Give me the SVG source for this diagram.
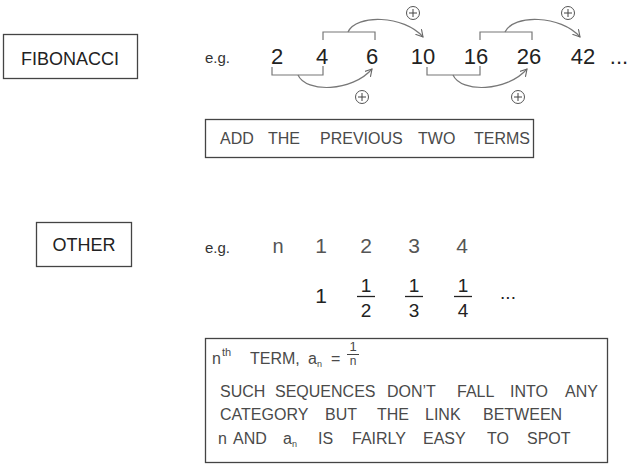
<svg xmlns="http://www.w3.org/2000/svg" width="642" height="467" viewBox="0 0 642 467">
<defs>
<marker id="arr" markerWidth="10" markerHeight="10" refX="7" refY="4" orient="auto" markerUnits="userSpaceOnUse">
<path d="M0,0 L7,4 L0,8" fill="none" stroke="#666" stroke-width="1.1"/>
</marker>
<style>
.t{font-family:"Liberation Sans",Arial,sans-serif;}
.box{fill:#fff;stroke:#444;stroke-width:1.3;}
.lbl{font-size:18px;fill:#222;text-anchor:middle;}
.num{font-size:22px;fill:#222;text-anchor:middle;}
.gray{fill:#555;}
.eg{font-size:15px;fill:#333;}
.note{font-size:16px;fill:#4a4a4a;}
.ln{fill:none;stroke:#777;stroke-width:1.2;}
.plus{fill:#fff;stroke:#555;stroke-width:1;}
.fr{font-size:19px;fill:#222;text-anchor:middle;}
</style>
</defs>

<g id="fibonacci">
<rect class="box" x="3.5" y="34.5" width="134" height="44"/>
<text class="t lbl" x="70" y="65">FIBONACCI</text>
</g>

<g id="fib-sequence">
<text class="t eg" x="205" y="63">e.g.</text>
<text class="t num" x="277" y="64">2</text>
<text class="t num" x="322" y="64">4</text>
<text class="t num" x="372" y="64">6</text>
<text class="t num" x="423" y="64">10</text>
<text class="t num" x="476" y="64">16</text>
<text class="t num" x="529" y="64">26</text>
<text class="t num" x="583" y="64">42</text>
<text class="t num" x="619" y="64">...</text>
</g>

<g id="connectors">
<path class="ln" d="M272,67 V75 H323 V66"/>
<path class="ln" d="M323,40 V32 H375 V40"/>
<path class="ln" d="M427,67 V75 H480 V66"/>
<path class="ln" d="M480,40 V32 H532 V40"/>
<path class="ln" d="M298,75 C306,93 352,92 372,69" marker-end="url(#arr)"/>
<path class="ln" d="M348,32 C356,14 404,15 423,37" marker-end="url(#arr)"/>
<path class="ln" d="M453,75 C461,93 507,92 527,69" marker-end="url(#arr)"/>
<path class="ln" d="M505,32 C513,14 561,15 580,37" marker-end="url(#arr)"/>
</g>

<g id="plus-signs">
<g transform="translate(413,13)"><circle class="plus" r="6.5"/><path d="M-4,0 H4 M0,-4 V4" stroke="#444" stroke-width="1"/></g>
<g transform="translate(362,97)"><circle class="plus" r="6.5"/><path d="M-4,0 H4 M0,-4 V4" stroke="#444" stroke-width="1"/></g>
<g transform="translate(518,97)"><circle class="plus" r="6.5"/><path d="M-4,0 H4 M0,-4 V4" stroke="#444" stroke-width="1"/></g>
<g transform="translate(568,13)"><circle class="plus" r="6.5"/><path d="M-4,0 H4 M0,-4 V4" stroke="#444" stroke-width="1"/></g>
</g>

<g id="fib-note">
<rect class="box" x="205.5" y="119.5" width="328" height="38"/>
<text class="t note" y="144"><tspan x="220">ADD</tspan><tspan x="268">THE</tspan><tspan x="320">PREVIOUS</tspan><tspan x="418">TWO</tspan><tspan x="474">TERMS</tspan></text>
</g>

<g id="other">
<rect class="box" x="36.5" y="222.5" width="95" height="44"/>
<text class="t lbl" x="84" y="251">OTHER</text>
</g>

<g id="other-sequence">
<text class="t eg" x="205" y="253">e.g.</text>
<text class="t num gray" x="278" y="253" style="font-size:20px">n</text>
<text class="t num gray" x="321" y="253" style="font-size:21px">1</text>
<text class="t num gray" x="366" y="253" style="font-size:21px">2</text>
<text class="t num gray" x="414" y="253" style="font-size:21px">3</text>
<text class="t num gray" x="462" y="253" style="font-size:21px">4</text>
<text class="t num" x="321" y="303" style="font-size:21px">1</text>
<text class="t fr" x="366" y="292">1</text>
<line x1="357" y1="296.5" x2="375" y2="296.5" stroke="#222" stroke-width="1.3"/>
<text class="t fr" x="366" y="317">2</text>
<text class="t fr" x="414" y="292">1</text>
<line x1="405" y1="296.5" x2="423" y2="296.5" stroke="#222" stroke-width="1.3"/>
<text class="t fr" x="414" y="317">3</text>
<text class="t fr" x="463" y="292">1</text>
<line x1="454" y1="296.5" x2="472" y2="296.5" stroke="#222" stroke-width="1.3"/>
<text class="t fr" x="463" y="317">4</text>
<text class="t fr" x="508" y="299">...</text>
</g>

<g id="other-note">
<rect class="box" x="205.5" y="338.5" width="402" height="124"/>
<text class="t note" x="212" y="364">n</text>
<text class="t note" x="222" y="356" style="font-size:11px">th</text>
<text class="t note" x="250" y="364">TERM,</text>
<text class="t note" x="308" y="364">a</text>
<text class="t note" x="317" y="367" style="font-size:9px">n</text>
<text class="t note" x="331" y="364">=</text>
<text class="t note" x="353" y="351" style="font-size:13px;text-anchor:middle">1</text>
<line x1="347" y1="354.5" x2="359" y2="354.5" stroke="#444" stroke-width="1"/>
<text class="t note" x="353" y="365" style="font-size:12px;text-anchor:middle">n</text>
<text class="t note" y="397"><tspan x="220">SUCH</tspan><tspan x="275">SEQUENCES</tspan><tspan x="387">DON’T</tspan><tspan x="457">FALL</tspan><tspan x="510">INTO</tspan><tspan x="565">ANY</tspan></text>
<text class="t note" y="420"><tspan x="220">CATEGORY</tspan><tspan x="325">BUT</tspan><tspan x="377">THE</tspan><tspan x="425">LINK</tspan><tspan x="483">BETWEEN</tspan></text>
<text class="t note" y="444"><tspan x="218">n</tspan><tspan x="233">AND</tspan><tspan x="283">a</tspan><tspan x="318">IS</tspan><tspan x="352">FAIRLY</tspan><tspan x="423">EASY</tspan><tspan x="487">TO</tspan><tspan x="527">SPOT</tspan></text>
<text class="t note" x="292" y="447" style="font-size:9px">n</text>
</g>
</svg>
